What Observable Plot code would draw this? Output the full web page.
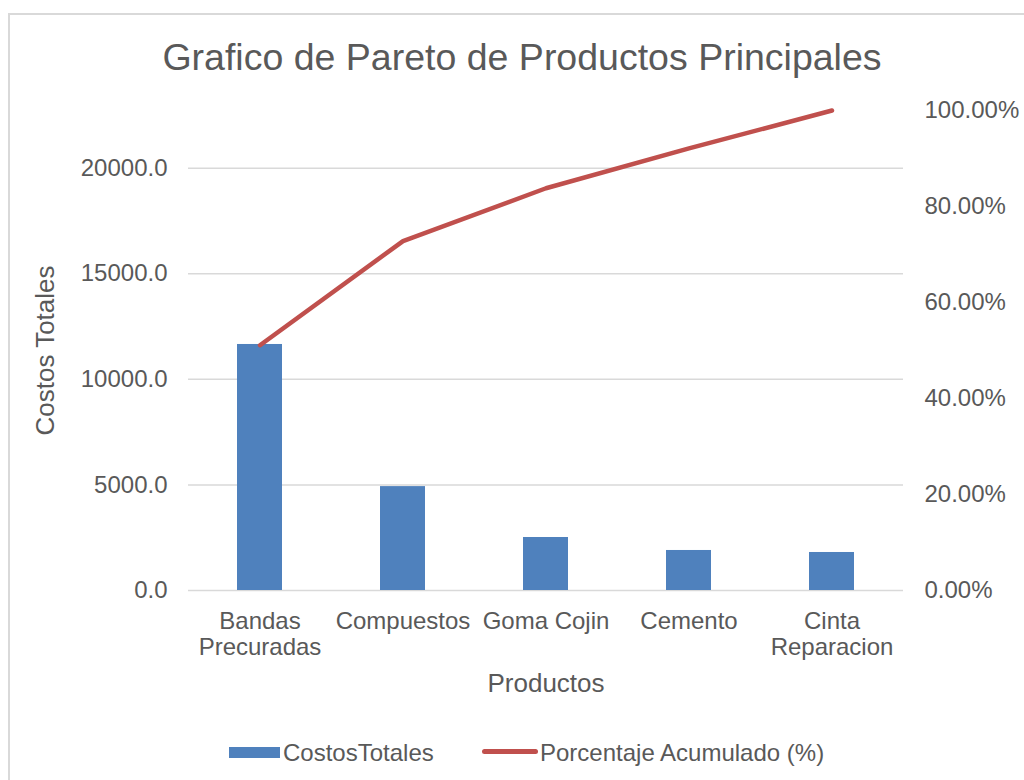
<!DOCTYPE html>
<html>
<head>
<meta charset="utf-8">
<script src="https://cdn.jsdelivr.net/npm/d3@7"></script>
<script src="https://cdn.jsdelivr.net/npm/@observablehq/plot@0.6"></script>
<style>
  html, body { margin: 0; padding: 0; background: #ffffff; overflow: hidden; }
  body { width: 1024px; height: 780px; position: relative; font-family: "Liberation Sans", Arial, sans-serif; color: #595959; }
  #frame { position: absolute; left: 8px; top: 13px; width: 1100px; height: 900px; border-left: 2px solid #d9d9d9; border-top: 2px solid #d9d9d9; box-sizing: border-box; pointer-events: none; }
  #title { position: relative; height: 95px; box-sizing: border-box; padding-top: 36px; line-height: 42px; font-size: 37.5px; text-align: center; color: #595959; padding-left: 20px; }
  #chart { position: relative; height: 610px; }
  #chart svg { display: block; }
  #legend { position: relative; height: 75px; font-size: 24px; color: #595959; }
  .sw { position: absolute; }
  .lt { position: absolute; top: 35px; line-height: 26px; white-space: nowrap; }
</style>
</head>
<body>
<div id="frame"></div>
<div id="title">Grafico de Pareto de Productos Principales</div>
<div id="chart"></div>
<div id="legend">
  <div class="sw" style="left:229px; top:42px; width:51px; height:11px; background:#4f81bd;"></div>
  <div class="lt" style="left:283px;">CostosTotales</div>
  <div class="sw" style="left:482px; top:44px; width:56px; height:5px; border-radius:3px; background:#c0504d;"></div>
  <div class="lt" style="left:540px;">Porcentaje Acumulado (%)</div>
</div>
<script>
const categories = ["Bandas Precuradas", "Compuestos", "Goma Cojin", "Cemento", "Cinta Reparacion"];
const tickLabels = ["Bandas\nPrecuradas", "Compuestos", "Goma Cojin", "Cemento", "Cinta\nReparacion"];
const costs = [11650, 4920, 2510, 1895, 1800];
const cumPct = [51.1, 72.8, 83.8, 92.1, 100];
const leftTicks = [0, 5000, 10000, 15000, 20000];
const rightTicks = [0, 20, 40, 60, 80, 100];
const leftMax = 22730;

const data = categories.map((c, i) => ({cat: c, cost: costs[i], pct: cumPct[i]}));
const toLeft = p => p / 100 * leftMax;

const chart = Plot.plot({
  width: 1024,
  height: 610,
  marginLeft: 188,
  marginRight: 121,
  marginTop: 15,
  marginBottom: 115,
  style: {fontFamily: "'Liberation Sans', Arial, sans-serif", color: "#595959", background: "transparent", overflow: "visible"},
  x: {domain: categories, paddingInner: 0.685, paddingOuter: 0.3425, align: 0.5},
  y: {domain: [0, leftMax]},
  marks: [
    Plot.gridY(leftTicks, {stroke: "#d9d9d9", strokeOpacity: 1, strokeWidth: 1.5}),
    Plot.barY(data, {x: "cat", y: "cost", fill: "#4f81bd"}),
    Plot.lineY(data, {x: "cat", y: d => toLeft(d.pct), stroke: "#c0504d", strokeWidth: 4.5, strokeLinecap: "round", strokeLinejoin: "round"}),
    Plot.axisY(leftTicks, {anchor: "left", tickSize: 0, tickPadding: 21, fontSize: 24, tickFormat: d => d.toFixed(1), label: null}),
    Plot.axisY(rightTicks.map(toLeft), {anchor: "right", tickSize: 0, tickPadding: 21, fontSize: 24, tickFormat: v => (Math.round(v / leftMax * 100)).toFixed(2) + "%", label: null}),
    Plot.axisX({tickSize: 0, tickPadding: 20, fontSize: 24, lineHeight: 1.08, tickFormat: d => tickLabels[categories.indexOf(d)], label: null}),
    Plot.text(["Costos Totales"], {frameAnchor: "left", dx: -143, rotate: -90, textAnchor: "middle", fontSize: 26, fill: "#595959"}),
    Plot.text(["Productos"], {frameAnchor: "bottom", dy: 101, fontSize: 26, fill: "#595959"})
  ]
});
document.getElementById("chart").appendChild(chart);
</script>
</body>
</html>
